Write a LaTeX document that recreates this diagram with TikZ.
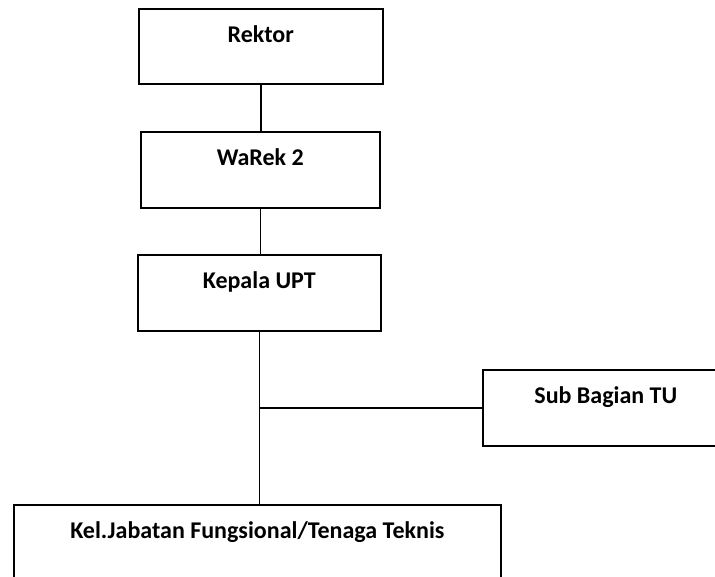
\documentclass[tikz,border=0pt]{standalone}
\usepackage{fontspec}
\setmainfont{Carlito}
\begin{document}
\begin{tikzpicture}[x=1pt, y=-1pt, line width=1.6pt,
  orgbox/.style={draw, anchor=north west, inner sep=0pt, align=center,
    font=\fontsize{24}{28}\selectfont\bfseries, text height=34pt}]
\useasboundingbox (0,0) rectangle (715,577);
\clip (0,0) rectangle (715,577);

% boxes
\node[orgbox, minimum width=244pt, minimum height=75pt, text depth=41pt] (rektor) at (138,8) {Rektor};
\node[orgbox, minimum width=239pt, minimum height=76pt, text depth=42pt] (warek) at (140,131) {WaRek 2};
\node[orgbox, minimum width=243pt, minimum height=76pt, text depth=42pt] (kepala) at (137,254) {Kepala UPT};
\node[orgbox, minimum width=246pt, minimum height=76pt, text depth=42pt] (subtu) at (482,369) {Sub Bagian TU};
\node[orgbox, minimum width=487pt, minimum height=120pt, text depth=86pt] (kel) at (13,504) {Kel.Jabatan Fungsional/Tenaga Teknis};

% lines
\draw (rektor.south) -- (rektor.south |- warek.north);
\draw (warek.south) -- (warek.south |- kepala.north);
\draw (kepala.south) -- (kepala.south |- kel.north);
\coordinate (tee) at (kepala.south |- subtu.west);
\draw (tee) -- (subtu.west);

\end{tikzpicture}
\end{document}
